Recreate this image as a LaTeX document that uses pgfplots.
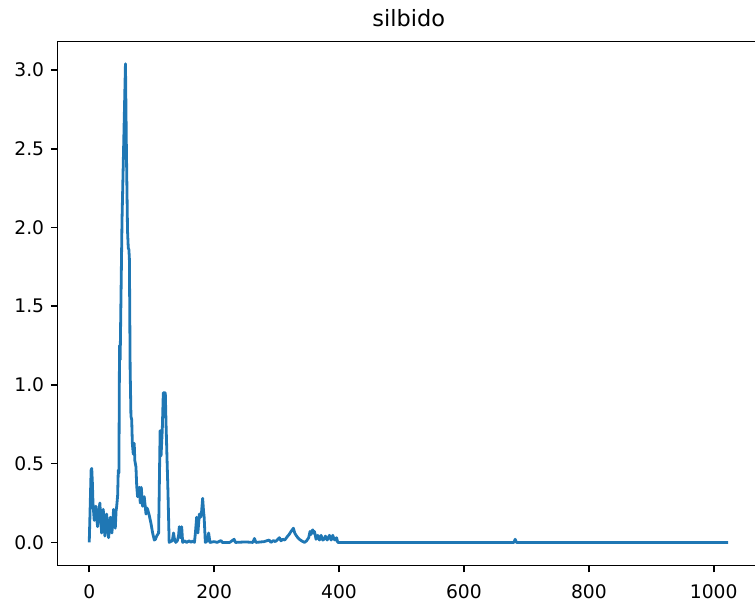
\documentclass[border=0pt]{standalone}
\usepackage{fontspec}
\setmainfont{DejaVu Sans}
\usepackage{pgfplots}
\pgfplotsset{compat=1.18}
\definecolor{mplblue}{HTML}{1F77B4}

\begin{document}
\begin{tikzpicture}
% canvas: 403.74pt x 320.86pt, axis box runs past the right edge
\path[use as bounding box] (0,0) rectangle (403.74pt,320.86pt);
\clip (0,0) rectangle (403.74pt,320.86pt);
\begin{axis}[
  at={(30.64pt,18.34pt)}, anchor=south west,
  scale only axis, width=375.8pt, height=280.2pt,
  xmin=-51.15, xmax=1074.15,
  ymin=-0.148, ymax=3.18,
  axis line style={line width=0.8pt, black},
  xtick={0,200,400,600,800,1000},
  ytick={0,0.5,1,1.5,2,2.5,3},
  xtick pos=bottom, ytick pos=left,
  tick align=outside,
  major tick length=3.5pt,
  every tick/.style={line width=0.8pt, black},
  tick label style={font=\fontsize{10}{12}\selectfont, black},
  /pgf/number format/assume math mode=true,
  yticklabel style={/pgf/number format/.cd, fixed, fixed zerofill, precision=1},
  xticklabel style={inner sep=0pt, yshift=-6.3pt, /pgf/number format/.cd, fixed, precision=0, 1000 sep={}},
  scaled ticks=false,
  title={silbido},
  title style={font=\fontsize{12}{14}\selectfont, anchor=base, at={(0.5,1)}, yshift=1.9pt},
]
\addplot[mplblue, line width=1.5pt, line join=round] coordinates {
(0,0) (1,0.15) (3,0.46) (4,0.47) (5,0.38) (6,0.25) (8,0.14) (9,0.18)
(10.7,0.23) (12,0.15) (13.4,0.10) (15,0.19) (17,0.25) (18.5,0.15) (19.8,0.06)
(21,0.15) (22.4,0.21) (24,0.12) (25.1,0.04) (26.5,0.12) (27.8,0.18) (29.5,0.10)
(31,0.03) (32.5,0.10) (33.7,0.16) (35,0.11) (36.3,0.06) (38,0.15) (39,0.21)
(40.5,0.14) (41.7,0.09) (43,0.20) (44,0.23) (45.5,0.30) (46.5,0.46) (47.5,0.44)
(48.5,1.25) (49.5,1.16) (52.5,2.05) (55,2.5) (58,3.04) (59.5,2.5) (61.3,1.98)
(62.5,1.87) (63.5,1.86) (64.3,1.8) (65.5,1.1) (66.8,0.80) (68,0.78) (69,0.63)
(70.5,0.56) (72,0.63) (73,0.52) (74.8,0.48) (76,0.36) (77.4,0.29) (78.5,0.33)
(80.1,0.35) (81.7,0.25) (83.3,0.35) (85.5,0.23) (87,0.28) (88.1,0.29) (90.9,0.18)
(92,0.22) (93.5,0.21) (96.2,0.17) (98.9,0.12) (101.5,0.06) (104.2,0.015) (106,0.02)
(107.9,0.04) (111.1,0.06) (112,0.3) (113.5,0.71) (115,0.55) (117,0.72) (118.6,0.95)
(121.8,0.95) (123,0.75) (124,0.61) (126,0.33) (128,0.0)
(130,0.005) (133,0.01) (135,0.06) (136.5,0.02) (138.5,0.0) (141,0.01) (143,0.04)
(144.2,0.10) (146,0.03) (148,0.10) (149.6,0.0) (153,0.01) (156,0.0) (160,0.01)
(163,0.0) (166,0.01) (168.5,0.0) (170,0.06) (172,0.16) (174,0.06) (176.3,0.18)
(178.4,0.16) (180,0.2) (181.6,0.28) (183,0.2) (184,0.16) (185.9,0.0) (189,0.01)
(191.2,0.06) (193.3,0.0) (200,0.005) (205,0.0) (211,0.012) (213,0.0) (225,0.0)
(232,0.02) (234,0.0) (250,0.003) (262,0.0) (264.5,0.025) (267,0.0) (280,0.005)
(288,0.015) (291,0.0) (295,0.012) (298,0.005) (302,0.02) (304.5,0.03) (307,0.01)
(309.8,0.02) (313,0.015) (317.8,0.04) (320,0.05) (323.2,0.07) (326.9,0.09)
(329,0.06) (331.2,0.045) (334,0.03) (336.5,0.02) (340,0.01) (344.6,0.0) (348,0.01)
(351.4,0.03) (353.6,0.07) (355,0.05) (356.2,0.065) (357.9,0.08) (359,0.06)
(360.6,0.07) (363.2,0.02) (365.9,0.045) (368.6,0.015) (371.2,0.045) (373.9,0.015)
(376,0.02) (378.2,0.04) (380.9,0.015) (383,0.03) (384.6,0.045) (387.3,0.015)
(390,0.045) (392,0.02) (394.2,0.015) (396,0.03) (398,0.0) (680,0.0) (682,0.02)
(684,0.0) (1023,0.0)
};
\end{axis}
\end{tikzpicture}
\end{document}
